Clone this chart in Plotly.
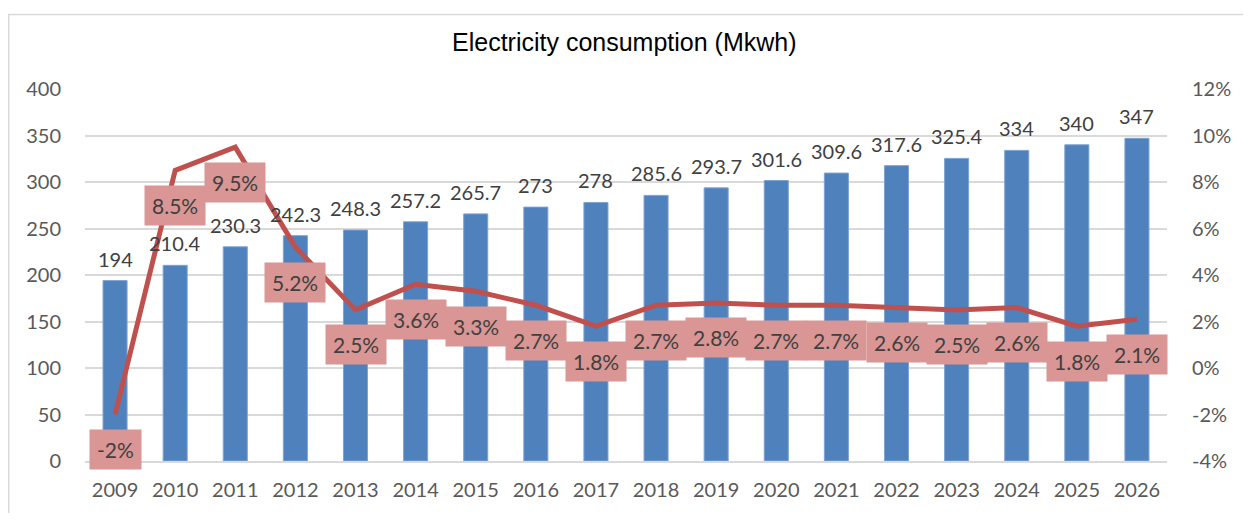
import plotly.graph_objects as go

years = [str(y) for y in range(2009, 2027)]
consumption = [194, 210.4, 230.3, 242.3, 248.3, 257.2, 265.7, 273, 278, 285.6,
               293.7, 301.6, 309.6, 317.6, 325.4, 334, 340, 347]
growth = [-2.0, 8.5, 9.5, 5.2, 2.5, 3.6, 3.3, 2.7, 1.8, 2.7,
          2.8, 2.7, 2.7, 2.6, 2.5, 2.6, 1.8, 2.1]
growth_labels = ["-2%", "8.5%", "9.5%", "5.2%", "2.5%", "3.6%", "3.3%", "2.7%", "1.8%",
                 "2.7%", "2.8%", "2.7%", "2.7%", "2.6%", "2.5%", "2.6%", "1.8%", "2.1%"]
left_ticks = [0, 50, 100, 150, 200, 250, 300, 350, 400]
right_ticks = [-4, -2, 0, 2, 4, 6, 8, 10, 12]
right_ticktext = [f"{v}%" for v in right_ticks]

BAR = "#4f81bd"
LINE = "#c0504d"
LABEL_BG = "#d99694"
TXT = "#404040"
TICK = "#595959"
GRID = "#d9d9d9"
FONT = "Lato"

# page body has an 8px margin; work in figure coordinates
OFF = 8
W, H = 1251 - OFF - 8, 521 - OFF - 8
L = 85 - OFF
T = 89 - OFF
R = W - (1170 - OFF)
B = H - (463 - OFF)
pw, ph = W - L - R, H - T - B


def px_x(p):
    return (p - OFF - L) / pw


def px_y(p):
    return (H - B - (p - OFF)) / ph


fig = go.Figure()
fig.add_trace(go.Bar(x=years, y=consumption, marker=dict(color=BAR, line=dict(color="#7ea3d3", width=1)),
                     yaxis="y", showlegend=False, hoverinfo="skip"))
fig.add_trace(go.Scatter(x=years, y=growth, mode="lines", line=dict(color=LINE, width=5),
                         yaxis="y2", showlegend=False, hoverinfo="skip"))

annotations = []
for i, v in enumerate(consumption):
    annotations.append(dict(x=i, y=v, xref="x", yref="y", text=f"{v:g}", showarrow=False,
                            yanchor="bottom", yshift=8, font=dict(family=FONT, size=20, color=TXT)))
for i, (g, lab) in enumerate(zip(growth, growth_labels)):
    annotations.append(dict(x=i, y=g, xref="x", yref="y2", text=lab, showarrow=False,
                            yanchor="middle", yshift=-35, bgcolor=LABEL_BG, borderpad=7,
                            font=dict(family=FONT, size=21, color=TXT)))
annotations.append(dict(x=px_x(626), y=px_y(42), xref="paper", yref="paper",
                        text="Electricity consumption (Mkwh)", showarrow=False, yanchor="middle",
                        font=dict(family="Liberation Sans", size=25, color="#000000")))

fig.update_layout(
    width=W, height=H,
    margin=dict(l=L, r=R, t=T, b=B),
    paper_bgcolor="white", plot_bgcolor="white",
    bargap=0.6,
    xaxis=dict(type="category", range=[-0.5, len(years) - 0.5], showgrid=False, showline=True,
               linecolor=GRID, linewidth=2,
               tickfont=dict(family=FONT, size=20, color=TICK), ticks="outside", ticklen=10,
               tickcolor="rgba(0,0,0,0)"),
    yaxis=dict(range=[0, 400], tickvals=left_ticks, showgrid=True, gridcolor=GRID, gridwidth=2,
               zeroline=False, tickfont=dict(family=FONT, size=20, color=TICK),
               ticks="outside", ticklen=19, tickcolor="rgba(0,0,0,0)"),
    yaxis2=dict(range=[-4, 12], overlaying="y", side="right", tickvals=right_ticks,
                ticktext=right_ticktext, showgrid=False, zeroline=False,
                tickfont=dict(family=FONT, size=20, color=TICK),
                ticks="outside", ticklen=20, tickcolor="rgba(0,0,0,0)"),
    annotations=annotations,
    shapes=[dict(type="rect", xref="paper", yref="paper",
                 x0=px_x(8.5), x1=px_x(1249.5),
                 y0=px_y(540), y1=px_y(14),
                 line=dict(color="#d9d9d9", width=1.5), fillcolor="rgba(0,0,0,0)", layer="below")],
)

fig.write_html("out.html")
